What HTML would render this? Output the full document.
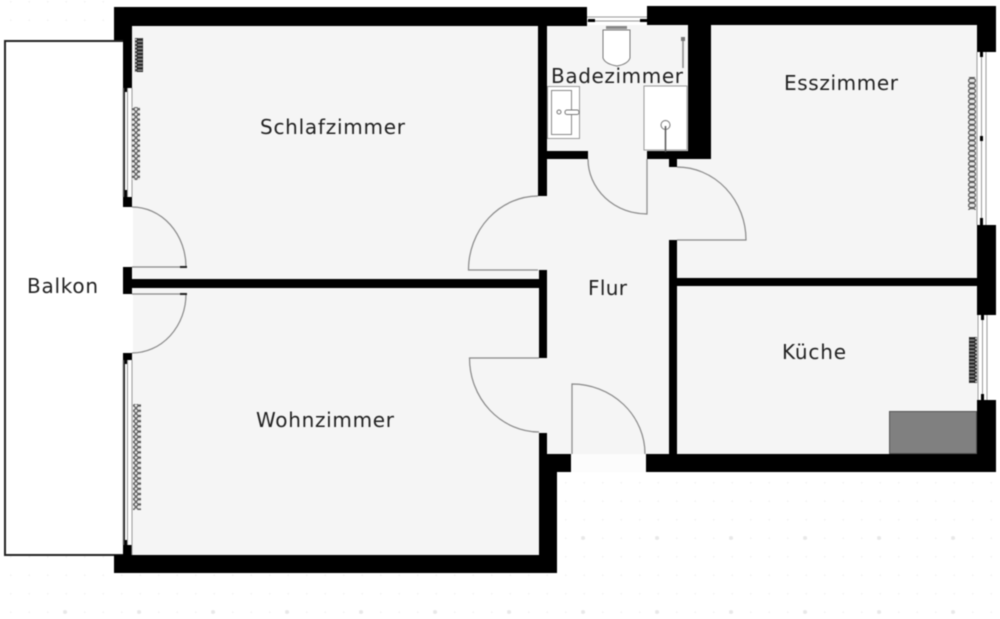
<!DOCTYPE html>
<html><head><meta charset="utf-8"><style>
html,body{margin:0;padding:0;background:#fff}
svg{display:block;filter:blur(0.45px)}
text{font-family:"DejaVu Sans","Liberation Sans",sans-serif;fill:#222;font-size:20px}
</style></head><body>
<svg width="1000" height="619" viewBox="0 0 1000 619" xmlns="http://www.w3.org/2000/svg">
<defs>
<pattern id="sd" x="565" y="482" width="18.5" height="18.5" patternUnits="userSpaceOnUse"><circle cx="0.8" cy="0.8" r="0.9" fill="#f3f3f3"/></pattern>
<pattern id="bd" x="579" y="534" width="74" height="74" patternUnits="userSpaceOnUse"><circle cx="4" cy="4" r="2" fill="#e9e9e9"/></pattern>
<pattern id="rad" x="0" y="0" width="8" height="5.2" patternUnits="userSpaceOnUse"><rect x="0.6" y="0.5" width="6.8" height="4.2" rx="2" fill="#e8e8e8" stroke="#555" stroke-width="1.2"/></pattern>
<pattern id="radd" x="0" y="0" width="8" height="3.6" patternUnits="userSpaceOnUse"><rect x="0.6" y="0.4" width="6.8" height="2.8" rx="1.4" fill="#888" stroke="#222" stroke-width="1.2"/></pattern>
</defs>
<rect width="1000" height="619" fill="#fff"/>
<!-- exterior dots -->
<rect x="0" y="473" width="1000" height="146" fill="url(#sd)"/>
<rect x="0" y="473" width="1000" height="146" fill="url(#bd)"/>
<rect x="0" y="0" width="114" height="38" fill="url(#sd)"/>
<!-- floor -->
<path d="M132 25H977V455H646V472H572V454H547V555H132Z" fill="#f5f5f5"/>
<rect x="572" y="454" width="74" height="18" fill="#fcfcfc"/>
<!-- balcony -->
<rect x="5" y="41" width="119" height="514" fill="#fff" stroke="#222" stroke-width="2"/>
<rect x="122" y="207" width="11" height="146" fill="#fff"/>
<!-- bathroom shower -->
<rect x="644" y="86" width="43" height="64" fill="#fff" stroke="#999" stroke-width="1"/>
<!-- walls -->
<g fill="#000">
<path d="M114 7H587V26H132V40H114Z"/>
<rect x="123" y="26" width="9" height="62"/>
<rect x="123" y="197" width="9" height="10"/>
<rect x="123" y="267" width="9" height="27"/>
<rect x="123" y="353" width="9" height="7"/>
<rect x="123" y="545" width="9" height="12"/>
<rect x="114" y="555" width="443" height="18"/>
<rect x="132" y="279" width="408" height="9"/>
<path d="M647 6H996V52H977V25H647Z"/>
<rect x="688" y="25" width="23" height="134"/>
<rect x="647" y="151" width="41" height="8"/>
<rect x="669" y="159" width="8" height="8"/>
<rect x="538" y="25" width="9" height="171"/>
<rect x="547" y="151" width="41" height="8"/>
<rect x="539" y="270" width="8" height="88"/>
<rect x="539" y="433" width="8" height="130"/>
<rect x="547" y="454" width="24" height="18"/>
<rect x="547" y="472" width="10" height="90"/>
<rect x="669" y="240" width="8" height="214"/>
<rect x="677" y="278" width="300" height="8"/>
<rect x="977" y="225" width="19" height="90"/>
<rect x="977" y="400" width="19" height="72"/>
<rect x="646" y="454" width="350" height="18"/>
</g>
<!-- kitchen block -->
<rect x="889.5" y="411.5" width="87" height="42" fill="#808080" stroke="#555" stroke-width="1"/>
<!-- windows -->
<rect x="977" y="52" width="9" height="173" fill="#fff"/>
<rect x="978" y="315" width="9" height="85" fill="#fff"/>
<g stroke="#999" stroke-width="1" fill="none">
<path d="M123 88V197M127.500 88V197M132 88V197"/>
<path d="M123 360V545M127.500 360V545M132 360V555"/>
<path d="M977 52V225M981.500 52V225M986 52V225"/>
<path d="M978 315V400M982.500 315V400M987 315V400"/>
<path d="M587 17H647M587 21H647"/>
</g>
<g fill="#000">
<rect x="125" y="88" width="2" height="4"/><rect x="125" y="190" width="2" height="7"/>
<rect x="125" y="360" width="2" height="4"/><rect x="125" y="540" width="2" height="6"/>
<rect x="980" y="52" width="3" height="5"/><rect x="980" y="136" width="3" height="5"/><rect x="980" y="218" width="3" height="7"/>
<rect x="981" y="315" width="3" height="5"/><rect x="981" y="394" width="3" height="6"/>
<rect x="588" y="19" width="7" height="3"/><rect x="640" y="19" width="7" height="3"/>
</g>
<!-- radiators -->
<rect x="135" y="38" width="8" height="34" fill="url(#radd)"/>
<rect x="132" y="107" width="8" height="73" fill="url(#rad)"/>
<rect x="133" y="404" width="8" height="106" fill="url(#rad)"/>
<rect x="968" y="77" width="8" height="133" fill="url(#rad)"/>
<rect x="969" y="337" width="8" height="46" fill="url(#radd)"/>
<!-- doors -->
<g fill="none" stroke="#888" stroke-width="1.200">
<path d="M572 454V384A73 70 0 0 1 645 454"/>
<path d="M539 358H469.500A70 74 0 0 0 539 432"/>
<path d="M538 270H468.500A70 74 0 0 1 538 196"/>
<path d="M588 159A59 55 0 0 0 647 214V159"/>
<path d="M677 167A69 73 0 0 1 746 240H677"/>
<path d="M132 207A54 60 0 0 1 186 267H132"/>
<path d="M132 353A54 59 0 0 0 186 294H132"/>
</g>
<g fill="#222"><rect x="180" y="266" width="7" height="2"/><rect x="180" y="293" width="7" height="2"/></g>
<!-- toilet -->
<rect x="606" y="26" width="21" height="3" fill="#888"/>
<path d="M603 30H630V58Q628 64 617 66Q605 64 603 58Z" fill="#fff" stroke="#777" stroke-width="1"/>
<!-- towel rail -->
<path d="M683 38V68" stroke="#888" stroke-width="1.500" fill="none"/>
<rect x="681" y="37" width="4" height="4" fill="#777"/>
<!-- sink -->
<rect x="547.500" y="86.500" width="32" height="52" fill="#fff" stroke="#999" stroke-width="1"/>
<rect x="551.500" y="90.500" width="20" height="44" fill="#fff" stroke="#888" stroke-width="1"/>
<circle cx="559" cy="112" r="2" fill="#fff" stroke="#777"/>
<rect x="565" y="110" width="14" height="4.500" rx="2" fill="#fff" stroke="#777"/>
<!-- shower head -->
<circle cx="665.500" cy="125" r="4.500" fill="#fff" stroke="#777" stroke-width="1"/>
<path d="M665.500 126V152" stroke="#555" stroke-width="1.500"/>
<!-- labels -->
<text x="260" y="134" textLength="145" lengthAdjust="spacing">Schlafzimmer</text>
<text x="551" y="83" textLength="132" lengthAdjust="spacing">Badezimmer</text>
<text x="784" y="90" textLength="114" lengthAdjust="spacing">Esszimmer</text>
<text x="27" y="293" textLength="71" lengthAdjust="spacing">Balkon</text>
<text x="588" y="295" textLength="39" lengthAdjust="spacing">Flur</text>
<text x="782" y="359" textLength="64" lengthAdjust="spacing">Küche</text>
<text x="256" y="427" textLength="138" lengthAdjust="spacing">Wohnzimmer</text>
</svg>
</body></html>
